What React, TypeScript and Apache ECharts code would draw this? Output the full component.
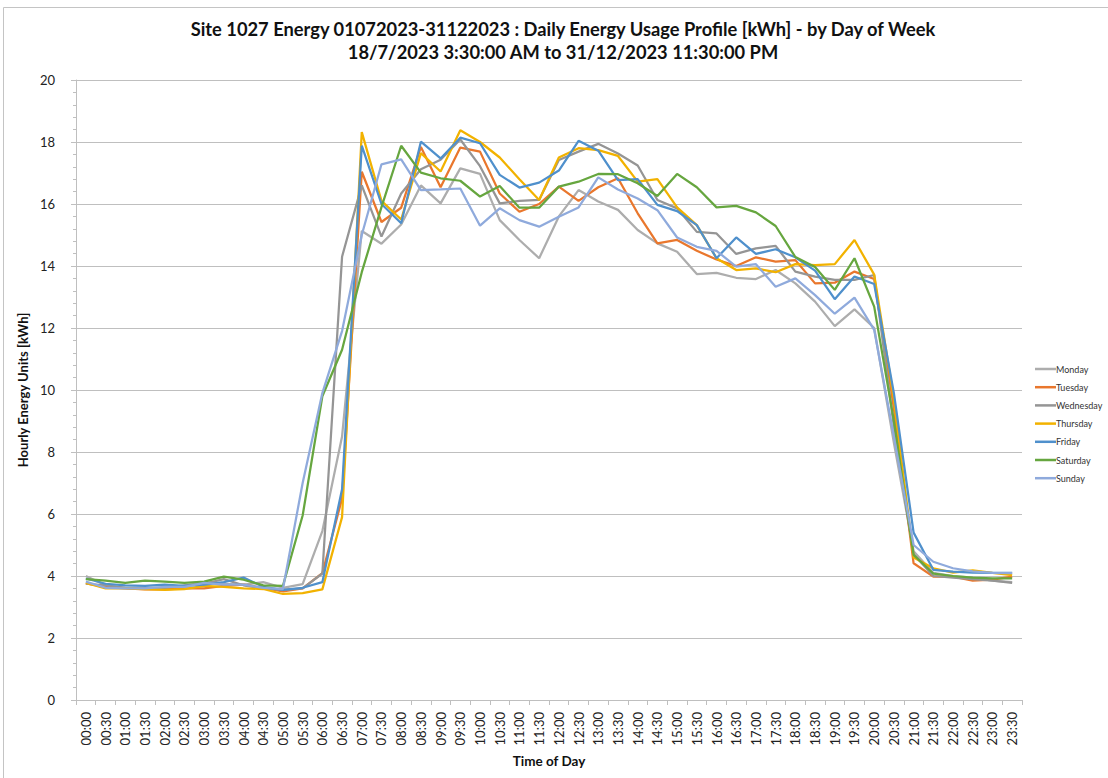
import React, { useEffect, useRef } from "react";
import * as echarts from "echarts";

const times = [
  "00:00","00:30","01:00","01:30","02:00","02:30","03:00","03:30","04:00","04:30","05:00","05:30",
  "06:00","06:30","07:00","07:30","08:00","08:30","09:00","09:30","10:00","10:30","11:00","11:30",
  "12:00","12:30","13:00","13:30","14:00","14:30","15:00","15:30","16:00","16:30","17:00","17:30",
  "18:00","18:30","19:00","19:30","20:00","20:30","21:00","21:30","22:00","22:30","23:00","23:30",
];

const monday = [4.00,3.70,3.62,3.60,3.62,3.68,3.80,3.75,3.72,3.80,3.62,3.74,5.45,8.5,15.13,14.72,15.34,16.6,16.02,17.15,16.97,15.48,14.84,14.25,15.6,16.45,16.08,15.81,15.16,14.73,14.46,13.74,13.78,13.62,13.58,13.87,13.44,12.85,12.06,12.6,12.0,8.3,4.8,4.1,4.0,3.95,3.85,3.8];
const tuesday = [3.76,3.65,3.6,3.57,3.57,3.6,3.6,3.68,3.72,3.62,3.5,3.6,4.09,6.5,17.04,15.42,15.88,17.84,16.54,17.82,17.69,16.34,15.75,16.0,16.56,16.1,16.54,16.83,15.7,14.73,14.84,14.49,14.21,14.0,14.28,14.14,14.19,13.44,13.46,13.82,13.58,9.4,4.41,3.98,3.98,3.85,3.88,3.98];
const wednesday = [3.75,3.7,3.62,3.62,3.62,3.7,3.75,3.9,3.7,3.6,3.55,3.6,4.08,14.3,16.6,14.95,16.34,17.12,17.43,18.08,17.22,16.02,16.1,16.13,17.42,17.69,17.94,17.63,17.24,16.13,15.86,15.1,15.05,14.39,14.57,14.65,13.82,13.66,13.55,13.55,13.71,8.8,4.7,4.0,3.95,3.9,3.85,3.78];
const thursday = [3.78,3.6,3.6,3.58,3.55,3.58,3.68,3.65,3.6,3.58,3.42,3.45,3.57,5.9,18.32,16.1,15.5,17.64,17.05,18.38,18.0,17.5,16.8,16.13,17.5,17.8,17.74,17.55,16.72,16.8,15.89,15.32,14.25,13.87,13.92,13.8,14.06,14.03,14.06,14.84,13.72,9.7,4.6,4.25,4.11,4.18,4.1,4.03];
const friday = [3.92,3.75,3.7,3.68,3.72,3.68,3.72,3.8,3.95,3.65,3.55,3.62,3.8,6.8,17.88,16.0,15.38,18.01,17.47,18.14,17.96,16.94,16.53,16.69,17.08,18.04,17.72,16.77,16.8,15.97,15.77,15.32,14.25,14.92,14.39,14.54,14.28,13.85,12.93,13.66,13.42,9.9,5.4,4.2,4.14,4.11,4.1,4.1];
const saturday = [3.9,3.85,3.78,3.85,3.82,3.78,3.82,3.98,3.88,3.7,3.68,5.95,9.8,11.3,13.8,15.9,17.88,17.01,16.83,16.75,16.24,16.58,15.88,15.88,16.56,16.72,16.97,16.96,16.67,16.26,16.97,16.54,15.89,15.94,15.73,15.29,14.29,13.97,13.23,14.25,12.69,9.0,4.68,4.08,4.0,3.95,3.92,3.92];
const sunday = [3.82,3.62,3.6,3.6,3.65,3.65,3.78,3.72,3.72,3.62,3.58,7.0,9.9,11.9,15.0,17.28,17.44,16.45,16.47,16.5,15.3,15.86,15.48,15.27,15.59,15.89,16.86,16.47,16.18,15.8,14.92,14.62,14.49,13.98,14.06,13.33,13.6,13.06,12.46,12.98,11.94,8.5,5.0,4.46,4.25,4.15,4.1,4.09];

const seriesNames = ["Monday","Tuesday","Wednesday","Thursday","Friday","Saturday","Sunday"];
const seriesData = [monday, tuesday, wednesday, thursday, friday, saturday, sunday];
const seriesColors = ["#ADADAD","#E9772D","#959595","#F2B200","#4F90CC","#66A63F","#8FAADC"];

const titleLines = [
  "Site 1027 Energy 01072023-31122023 : Daily Energy Usage Profile [kWh] - by Day of Week",
  "18/7/2023 3:30:00 AM to 31/12/2023 11:30:00 PM",
];

const FONT = "Lato, 'Liberation Sans', sans-serif";

export default function App() {
  const ref = useRef<HTMLDivElement>(null);
  useEffect(() => {
    if (!ref.current) return;
    const chart = echarts.init(ref.current, null, { renderer: "svg" });
    chart.setOption({
      animation: false,
      backgroundColor: "#ffffff",
      textStyle: { fontFamily: FONT },
      graphic: [
        {
          type: "rect",
          shape: { x: 3.5, y: 7.5, width: 1110, height: 800 },
          style: { fill: "none", stroke: "#c4c4c4", lineWidth: 1 },
          silent: true,
        },
      ],
      title: {
        text: titleLines.join("\n"),
        left: 563,
        textAlign: "center",
        top: 17,
        padding: 0,
        textStyle: {
          fontFamily: FONT,
          fontSize: 18.3,
          fontWeight: "bold",
          color: "#111",
          lineHeight: 23,
        },
      },
      legend: {
        orient: "vertical",
        left: 1035,
        top: 363,
        padding: 0,
        icon: "rect",
        itemWidth: 21,
        itemHeight: 2.5,
        itemGap: 6.2,
        data: seriesNames,
        textStyle: { fontFamily: FONT, fontSize: 9, lineHeight: 12, color: "#333", padding: [0, 0, 0, -5] },
      },
      grid: { left: 76, right: 86, top: 80, bottom: 78, containLabel: false },
      xAxis: {
        type: "category",
        data: times,
        boundaryGap: true,
        name: "Time of Day",
        nameLocation: "middle",
        nameGap: 54,
        nameTextStyle: { fontFamily: FONT, fontSize: 13.5, fontWeight: "bold", color: "#111" },
        axisLine: { show: true, lineStyle: { color: "#bfbfbf", width: 1 } },
        axisTick: { show: true, alignWithLabel: false, length: 5, lineStyle: { color: "#bfbfbf" } },
        axisLabel: { rotate: 90, interval: 0, fontFamily: FONT, fontSize: 13, color: "#222", margin: 12 },
        splitLine: { show: false },
      },
      yAxis: {
        type: "value",
        min: 0,
        max: 20,
        interval: 2,
        name: "Hourly Energy Units [kWh]",
        nameLocation: "middle",
        nameGap: 40,
        nameRotate: 90,
        nameTextStyle: { fontFamily: FONT, fontSize: 13, fontWeight: "bold", color: "#111" },
        axisLine: { show: true, lineStyle: { color: "#bfbfbf", width: 1 } },
        axisTick: { show: true, length: 5, lineStyle: { color: "#bfbfbf" } },
        minorTick: { show: true, splitNumber: 5, length: 3, lineStyle: { color: "#bfbfbf" } },
        axisLabel: { fontFamily: FONT, fontSize: 13, color: "#222", margin: 21 },
        splitLine: { show: true, lineStyle: { color: "#bfbfbf", width: 1 } },
      },
      series: seriesNames.map((name, i) => ({
        name,
        type: "line",
        data: seriesData[i],
        symbol: "none",
        showSymbol: false,
        smooth: false,
        lineStyle: { color: seriesColors[i], width: 2.25 },
        itemStyle: { color: seriesColors[i] },
      })),
    });
    return () => chart.dispose();
  }, []);
  return (
    <div
      ref={ref}
      style={{ position: "fixed", left: 0, top: 0, width: 1108, height: 778, overflow: "hidden" }}
    />
  );
}
